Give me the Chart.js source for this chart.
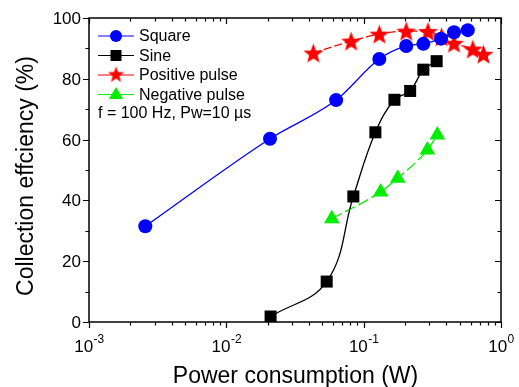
<!DOCTYPE html>
<html lang="en">
<head>
<meta charset="UTF-8">
<title>Collection efficiency vs power consumption</title>
<script src="https://cdn.jsdelivr.net/npm/chart.js"></script>
<style>
  html, body { margin: 0; padding: 0; background: #fff; }
</style>
</head>
<body>
<canvas id="chart" width="519" height="387"></canvas>
<script>
// data (power in W, efficiency in %)
const squarePower = [0.00257, 0.0208, 0.063, 0.130, 0.204, 0.272, 0.366, 0.455, 0.573];
const squareEff   = [31.5, 60.3, 73.0, 86.5, 90.8, 91.5, 93.2, 95.3, 96.0];

const sinePower = [0.021, 0.0538, 0.0841, 0.1217, 0.1675, 0.218, 0.272, 0.340];
const sineEff   = [1.8, 13.3, 41.3, 62.4, 73.1, 76.0, 83.0, 85.8];

const posPower = [0.043, 0.081, 0.130, 0.204, 0.294, 0.369, 0.455, 0.624, 0.745];
const posEff   = [88.5, 92.4, 94.7, 95.7, 95.6, 93.8, 91.7, 89.8, 88.1];

const negPower = [0.0586, 0.133, 0.177, 0.291, 0.344];
const negEff   = [34.0, 42.8, 47.3, 56.6, 61.5];

const xDecades = [-3, -2, -1, 0];
const yTicks = [0, 20, 40, 60, 80, 100];
const legendNote = 'f = 100 Hz, Pw=10 \u00b5s';

const FONT = 'Arial, "Liberation Sans", sans-serif';

function toPoints(xs, ys) {
    return xs.map((x, i) => ({ x: x, y: ys[i] }));
}

// filled five point star used as marker
function makeStar(size, color) {
    const c = document.createElement('canvas');
    c.width = size; c.height = size;
    const g = c.getContext('2d');
    const cx = size / 2, cy = size / 2 + 1;
    const R = size / 2, r = R * 0.42;
    g.beginPath();
    for (let i = 0; i < 10; i++) {
        const rad = (i % 2 === 0) ? R : r;
        const a = -Math.PI / 2 + i * Math.PI / 5;
        const px = cx + rad * Math.cos(a), py = cy + rad * Math.sin(a);
        if (i === 0) g.moveTo(px, py); else g.lineTo(px, py);
    }
    g.closePath();
    g.fillStyle = color;
    g.fill();
    return c;
}
const starBig = makeStar(21, '#ff0000');
const starSmall = makeStar(17, '#ff0000');

const series = [
    { label: 'Square', color: '#0000ff', style: 'circle', r: 7, legendR: 6, dash: [], smooth: 'monotone' },
    { label: 'Sine', color: '#000000', style: 'rect', r: 8.5, legendR: 7, dash: [], smooth: 'default' },
    { label: 'Positive pulse', color: '#ff0000', style: starBig, legendStyle: starSmall, r: 10, dash: [8, 3], smooth: 'monotone' },
    { label: 'Negative pulse', color: '#00ee00', style: 'triangle', r: 9, legendR: 7.5, dash: [11, 4], smooth: 'monotone' }
];

// axes, ticks, labels and the in-plot legend
const axesPlugin = {
    id: 'originAxes',
    afterDraw(chart) {
        const ctx = chart.ctx;
        const a = chart.chartArea;
        const xs = chart.scales.x, ys = chart.scales.y;
        ctx.save();
        ctx.strokeStyle = '#000';
        ctx.fillStyle = '#000';
        ctx.lineWidth = 1.5;
        ctx.strokeRect(a.left, a.top, a.right - a.left, a.bottom - a.top);

        // y ticks
        ctx.lineWidth = 1.2;
        ctx.font = '17px ' + FONT;
        ctx.textAlign = 'right';
        ctx.textBaseline = 'middle';
        for (let v = 0; v <= 100; v += 10) {
            const py = Math.round(ys.getPixelForValue(v)) + 0.5;
            const len = yTicks.includes(v) ? 6 : 3.5;
            ctx.beginPath();
            ctx.moveTo(a.left - len, py); ctx.lineTo(a.left, py);
            ctx.moveTo(a.right - len, py); ctx.lineTo(a.right, py);
            ctx.stroke();
            if (yTicks.includes(v)) ctx.fillText(String(v), a.left - 8, py + 1);
        }

        // x ticks (log)
        xDecades.forEach(d => {
            for (let k = 1; k <= 9; k++) {
                const v = k * Math.pow(10, d);
                if (v > 1.0001) break;
                const px = Math.round(xs.getPixelForValue(v)) + 0.5;
                const len = k === 1 ? 6 : 3.5;
                ctx.beginPath();
                ctx.moveTo(px, a.bottom); ctx.lineTo(px, a.bottom + len);
                ctx.moveTo(px, a.top); ctx.lineTo(px, a.top + len);
                ctx.stroke();
            }
            // label 10^d
            const px = xs.getPixelForValue(Math.pow(10, d));
            ctx.font = '17px ' + FONT;
            const base = '10';
            const sup = String(d);
            const wb = ctx.measureText(base).width;
            ctx.font = '12px ' + FONT;
            const wsup = ctx.measureText(sup).width;
            const start = px - (wb + wsup) / 2;
            ctx.textAlign = 'left';
            ctx.textBaseline = 'alphabetic';
            ctx.font = '17px ' + FONT;
            ctx.fillText(base, start, a.bottom + 30);
            ctx.font = '12px ' + FONT;
            ctx.fillText(sup, start + wb + 0.5, a.bottom + 21);
        });

        // axis titles
        ctx.font = '23px ' + FONT;
        ctx.textAlign = 'center';
        ctx.textBaseline = 'alphabetic';
        ctx.fillText('Power consumption (W)', 295.5, 383);
        ctx.save();
        ctx.translate(33, 176);
        ctx.rotate(-Math.PI / 2);
        ctx.fillText('Collection effciency (%)', 0, 0);
        ctx.restore();

        // legend
        const lx0 = 98, lx1 = 134, tx = 139;
        const rows = [36, 55.5, 75, 94.5];
        ctx.font = '16px ' + FONT;
        ctx.textAlign = 'left';
        ctx.textBaseline = 'middle';
        series.forEach((s, i) => {
            const y = rows[i];
            ctx.strokeStyle = s.color;
            ctx.lineWidth = 1;
            ctx.beginPath();
            ctx.moveTo(lx0, y); ctx.lineTo(lx1, y);
            ctx.stroke();
            const mx = (lx0 + lx1) / 2;
            if (s.legendStyle) {
                ctx.drawImage(s.legendStyle, mx - s.legendStyle.width / 2, y - s.legendStyle.height / 2 - 1);
            } else {
                ctx.fillStyle = s.color;
                ctx.beginPath();
                if (s.style === 'circle') {
                    ctx.arc(mx, y, s.legendR, 0, Math.PI * 2);
                } else if (s.style === 'rect') {
                    ctx.rect(mx - 5.5, y - 5.5, 11, 11);
                } else {
                    const r = s.legendR;
                    ctx.moveTo(mx, y - r);
                    ctx.lineTo(mx + r * 0.95, y + r * 0.6);
                    ctx.lineTo(mx - r * 0.95, y + r * 0.6);
                    ctx.closePath();
                }
                ctx.fill();
            }
            ctx.fillStyle = '#000';
            ctx.fillText(s.label, tx, y + 1);
        });
        ctx.fillText(legendNote, 98, 114);
        ctx.restore();
    }
};

const datasets = [
    [squarePower, squareEff],
    [sinePower, sineEff],
    [posPower, posEff],
    [negPower, negEff]
].map((d, i) => {
    const s = series[i];
    return {
        label: s.label,
        data: toPoints(d[0], d[1]),
        borderColor: s.color,
        backgroundColor: s.color,
        borderWidth: 1.3,
        borderDash: s.dash,
        pointStyle: s.style,
        pointRadius: s.r,
        pointHoverRadius: s.r,
        pointBorderWidth: 0,
        tension: 0.4,
        cubicInterpolationMode: s.smooth,
        fill: false
    };
});

new Chart(document.getElementById('chart'), {
    type: 'line',
    data: { datasets: datasets },
    options: {
        responsive: false,
        animation: false,
        events: [],
        layout: { padding: { left: 89, right: 18, top: 18, bottom: 65 } },
        plugins: { legend: { display: false }, tooltip: { enabled: false } },
        scales: {
            x: { type: 'logarithmic', min: 0.001, max: 1, display: false },
            y: { type: 'linear', min: 0, max: 100, display: false }
        }
    },
    plugins: [axesPlugin]
});
</script>
</body>
</html>
